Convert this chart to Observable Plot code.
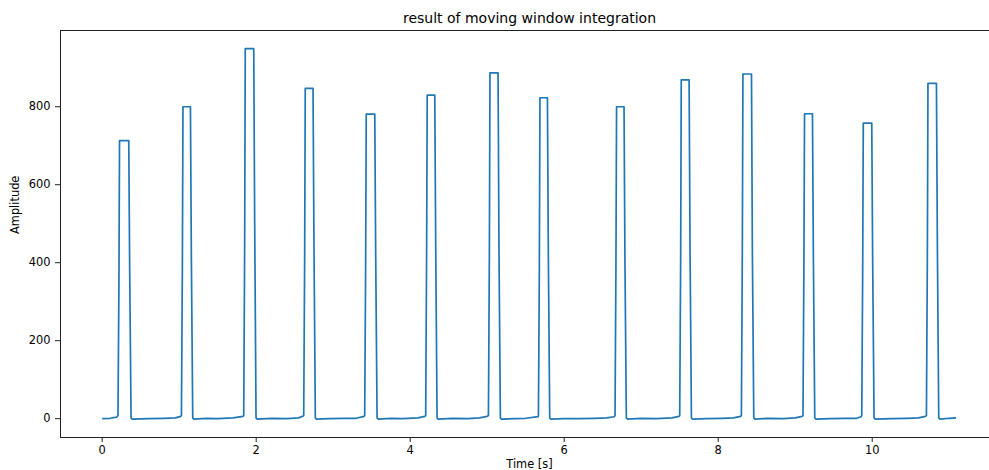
<!DOCTYPE html>
<html>
<head>
<meta charset="utf-8">
<script src="https://cdn.jsdelivr.net/npm/d3@7"></script>
<script src="https://cdn.jsdelivr.net/npm/@observablehq/plot@0.6"></script>
<style>
  html, body { margin: 0; padding: 0; background: white; }
  #chart { width: 989px; height: 470px; overflow: hidden; }
</style>
</head>
<body>
<div id="chart"></div>
<script>
// Integrated signal: each beat is a flat-topped pulse
const riseStart = [0.205, 1.029, 1.838, 2.617, 3.409, 4.201, 5.016, 5.665, 6.660, 7.500, 8.301, 9.101, 9.864, 10.704];
const riseKinkT = [0.217, 1.041, 1.850, 2.629, 3.421, 4.213, 5.028, 5.677, 6.672, 7.512, 8.313, 9.113, 9.876, 10.716];
const topStart  = [0.225, 1.049, 1.858, 2.637, 3.429, 4.221, 5.036, 5.685, 6.680, 7.520, 8.321, 9.121, 9.884, 10.724];
const topEnd    = [0.345, 1.146, 1.968, 2.738, 3.540, 4.319, 5.141, 5.782, 6.777, 7.622, 8.432, 9.224, 9.994, 10.834];
const fallKinkT = [0.357, 1.158, 1.980, 2.750, 3.552, 4.331, 5.153, 5.794, 6.789, 7.634, 8.444, 9.236, 10.006, 10.846];
const fallEnd   = [0.375, 1.176, 1.998, 2.768, 3.570, 4.349, 5.171, 5.812, 6.807, 7.652, 8.462, 9.254, 10.024, 10.864];
const peaks     = [713, 800, 949, 847, 781, 830, 887, 823, 800, 869, 884, 782, 758, 860];
const riseKinkV = [335, 385, 440, 400, 380, 420, 420, 380, 400, 400, 420, 400, 370, 410];
const fallKinkV = [380, 410, 510, 455, 415, 450, 430, 420, 400, 440, 420, 410, 400, 450];
const riseStartV = 8;
const fallEndV = 2;

// Baseline samples between the pulses
const baseT = [0, 0.1, 0.19,
  0.39, 0.6, 0.8, 0.95, 1.02,
  1.19, 1.35, 1.5, 1.7, 1.83,
  2.01, 2.2, 2.4, 2.55, 2.61,
  2.78, 2.95, 3.15, 3.3, 3.40,
  3.585, 3.75, 3.9, 4.1, 4.19,
  4.36, 4.55, 4.75, 4.9, 5.0,
  5.185, 5.35, 5.5, 5.66,
  5.825, 6.0, 6.2, 6.4, 6.55, 6.65,
  6.82, 7.0, 7.2, 7.4, 7.49,
  7.665, 7.85, 8.05, 8.2, 8.29,
  8.475, 8.65, 8.85, 9.0, 9.09,
  9.27, 9.45, 9.65, 9.8, 9.855,
  10.04, 10.25, 10.45, 10.6, 10.69,
  10.88, 11.0, 11.09];
const baseV = [0, 1, 4,
  -1, 0, 1, 2, 6,
  -1, 1, 0, 2, 6,
  -1, 1, 0, 2, 7,
  -1, 0, 1, 1, 6,
  -1, 1, 0, 2, 6,
  -1, 1, 0, 2, 6,
  -1, 0, 1, 5,
  -1, 0, 0, 1, 2, 5,
  -1, 1, 0, 2, 6,
  -1, 0, 1, 2, 6,
  -1, 1, 0, 2, 6,
  -1, 0, 1, 1, 5,
  -1, 0, 1, 2, 6,
  -1, 1, 2];

const xTicks = [0, 2, 4, 6, 8, 10];
const yTicks = [0, 200, 400, 600, 800];

// Assemble the trace as one time-ordered series
const signal = [];
baseT.forEach((t, i) => signal.push({t, v: baseV[i]}));
peaks.forEach((p, i) => {
  signal.push({t: riseStart[i], v: riseStartV});
  signal.push({t: riseKinkT[i], v: riseKinkV[i]});
  signal.push({t: topStart[i], v: p});
  signal.push({t: topEnd[i], v: p});
  signal.push({t: fallKinkT[i], v: fallKinkV[i]});
  signal.push({t: fallEnd[i], v: fallEndV});
});
signal.sort((a, b) => a.t - b.t);

const font = "DejaVu Sans, sans-serif";

const chart = Plot.plot({
  width: 1000,
  height: 470,
  marginLeft: 60,
  marginRight: 2,
  marginTop: 30,
  marginBottom: 33,
  style: {fontFamily: font, fontSize: "11.4px", color: "black", background: "white", maxWidth: "none", overflow: "hidden"},
  x: {domain: [-0.5415, 11.64]},
  y: {domain: [-48.3, 995.5]},
  marks: [
    Plot.line(signal, {x: "t", y: "v", stroke: "#1f77b4", strokeWidth: 1.7, strokeLinejoin: "round", strokeLinecap: "butt"}),
    Plot.frame({stroke: "#222", strokeWidth: 1}),
    Plot.axisX({ticks: xTicks, tickSize: 5, tickPadding: 3.5, tickFormat: d => String(d), label: null, fontSize: "11.4px", stroke: "#222"}),
    Plot.axisY({ticks: yTicks, tickSize: 5, tickPadding: 5, tickFormat: d => String(d), label: null, fontSize: "11.4px", stroke: "#222"}),
    Plot.text(["Time [s]"], {frameAnchor: "bottom", dy: 27, lineAnchor: "middle", fontSize: "11.4px", fill: "black"}),
    Plot.text(["Amplitude"], {frameAnchor: "left", dx: -45, rotate: -90, lineAnchor: "middle", fontSize: "11.4px", fill: "black"}),
    Plot.text(["result of moving window integration"], {frameAnchor: "top", dy: -8, lineAnchor: "bottom", fontSize: "14px", fill: "black"})
  ]
});
document.getElementById("chart").appendChild(chart);
</script>
</body>
</html>
